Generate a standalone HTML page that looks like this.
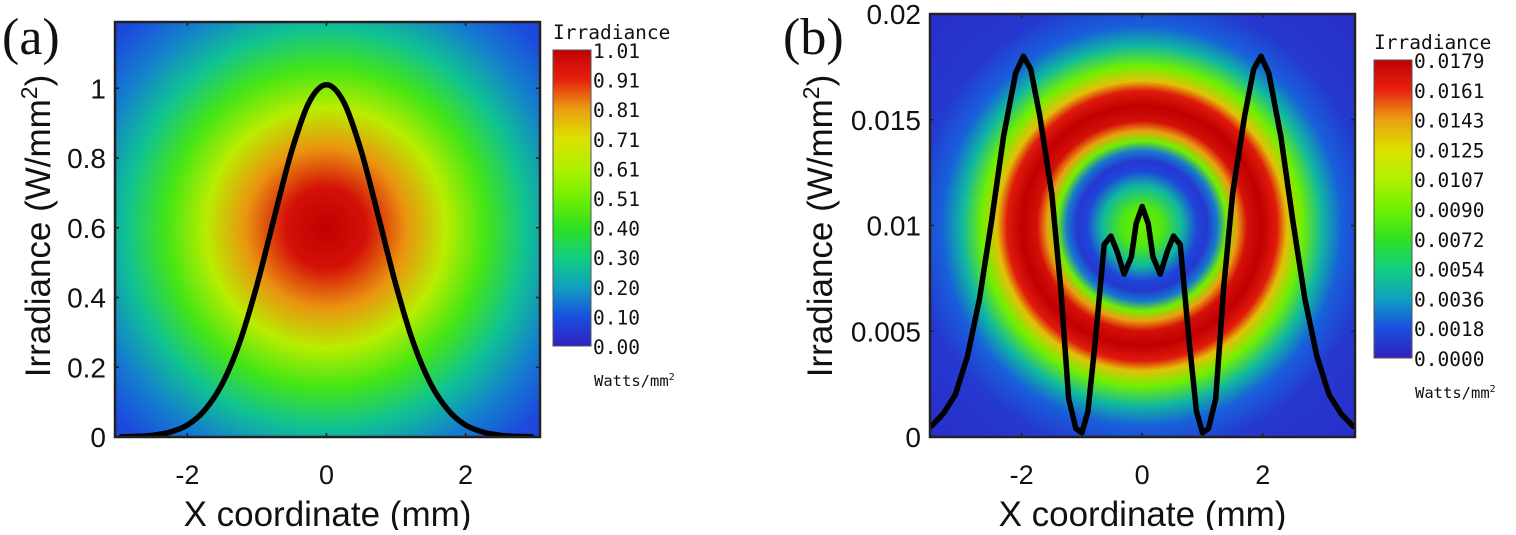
<!DOCTYPE html>
<html><head><meta charset="utf-8"><style>
body{margin:0;background:#fff;width:1516px;height:530px;overflow:hidden}
.sans{font-family:"Liberation Sans",sans-serif}
.mono{font-family:"DejaVu Sans Mono","Liberation Mono",monospace}
.serif{font-family:"Liberation Serif",serif}
</style></head><body>
<svg id="fig" width="1516" height="530" xmlns="http://www.w3.org/2000/svg"><defs id="defs"></defs></svg>
<script>
// colormap (jet-like) stops
const cmapPos=[0,0.1,0.2,0.3,0.4,0.5,0.6,0.7,0.8,0.9,1.0];
const cmapCol=["#3020c0","#1a50e0","#10a0c0","#10d080","#30e020","#70f000","#b0f000","#dce000","#eaa010","#e82010","#c00000"];
// panel a
const aX=[-2.95,-2.75,-2.5,-2.25,-2,-1.75,-1.5,-1.25,-1,-0.75,-0.5,-0.25,0,0.25,0.5,0.75,1,1.25,1.5,1.75,2,2.25,2.5,2.75,2.95];
const aY=[0.0007,0.0017,0.005,0.014,0.034,0.077,0.152,0.27,0.435,0.63,0.82,0.96,1.01,0.96,0.82,0.63,0.435,0.27,0.152,0.077,0.034,0.014,0.005,0.0017,0.0007];
const aXTicks=[-2,0,2];
const aYTicks=[0,0.2,0.4,0.6,0.8,1];
const aYTickLabels=["0","0.2","0.4","0.6","0.8","1"];
const aCbLabels=["1.01","0.91","0.81","0.71","0.61","0.51","0.40","0.30","0.20","0.10","0.00"];
const aRad=[0,40,80,120,160,200,240,280,320];
const aRadVal=[1.0,0.95,0.81,0.62,0.43,0.27,0.16,0.09,0.05];
// panel b
const bX=[-3.5,-3.3,-3.1,-2.9,-2.7,-2.5,-2.3,-2.1,-1.97,-1.85,-1.7,-1.5,-1.35,-1.22,-1.1,-1.0,-0.9,-0.78,-0.63,-0.52,-0.42,-0.3,-0.18,-0.1,0,0.1,0.18,0.3,0.42,0.52,0.63,0.78,0.9,1.0,1.1,1.22,1.35,1.5,1.7,1.85,1.97,2.1,2.3,2.5,2.7,2.9,3.1,3.3,3.5];
const bY=[0.0005,0.0011,0.002,0.0038,0.0065,0.0102,0.0142,0.0172,0.018,0.0174,0.0152,0.0115,0.007,0.0018,0.0004,0.0002,0.0012,0.0045,0.0091,0.0095,0.0088,0.0077,0.0085,0.0101,0.0109,0.0101,0.0085,0.0077,0.0088,0.0095,0.0091,0.0045,0.0012,0.0002,0.0004,0.0018,0.007,0.0115,0.0152,0.0174,0.018,0.0172,0.0142,0.0102,0.0065,0.0038,0.002,0.0011,0.0005];
const bXTicks=[-2,0,2];
const bYTicks=[0,0.005,0.01,0.015,0.02];
const bYTickLabels=["0","0.005","0.01","0.015","0.02"];
const bCbLabels=["0.0179","0.0161","0.0143","0.0125","0.0107","0.0090","0.0072","0.0054","0.0036","0.0018","0.0000"];
const bRad=[0,20,40,55,65,75,85,95,105,120,135,145,160,180,200,230,300];
const bRadVal=[0.5,0.45,0.25,0.08,0.05,0.15,0.5,0.8,0.95,1.0,0.92,0.75,0.5,0.25,0.12,0.05,0.03];

const NS="http://www.w3.org/2000/svg";
const svg=document.getElementById('fig'), defs=document.getElementById('defs');
function mk(tag,attrs,parent){const e=document.createElementNS(NS,tag);for(const k in attrs)e.setAttribute(k,attrs[k]);(parent||svg).appendChild(e);return e;}
function hex(c){return [parseInt(c.substr(1,2),16),parseInt(c.substr(3,2),16),parseInt(c.substr(5,2),16)];}
function cmap(t){t=Math.max(0,Math.min(1,t));for(let i=1;i<cmapPos.length;i++){if(t<=cmapPos[i]){const f=(t-cmapPos[i-1])/(cmapPos[i]-cmapPos[i-1]);const a=hex(cmapCol[i-1]),b=hex(cmapCol[i]);return `rgb(${a.map((v,j)=>Math.round(v+(b[j]-v)*f)).join(',')})`;}}return cmapCol[cmapCol.length-1];}
function smoothPath(pts){
  let d='M'+pts[0][0].toFixed(1)+','+pts[0][1].toFixed(1);
  for(let i=0;i<pts.length-1;i++){
    const p0=pts[Math.max(0,i-1)],p1=pts[i],p2=pts[i+1],p3=pts[Math.min(pts.length-1,i+2)];
    const c1=[p1[0]+(p2[0]-p0[0])/6,p1[1]+(p2[1]-p0[1])/6],c2=[p2[0]-(p3[0]-p1[0])/6,p2[1]-(p3[1]-p1[1])/6];
    d+=`C${c1[0].toFixed(1)},${c1[1].toFixed(1)} ${c2[0].toFixed(1)},${c2[1].toFixed(1)} ${p2[0].toFixed(1)},${p2[1].toFixed(1)}`;
  }
  return d;
}

function panel(p){
  const g=mk('g',{});
  
  
  const sx=v=>p.L+(v-p.x0)/(p.x1-p.x0)*(p.R-p.L);
  const sy=v=>p.B-(v-p.y0)/(p.y1-p.y0)*(p.B-p.T);
  const maxR=p.rad[p.rad.length-1];
  const rg=mk('radialGradient',{id:p.id+'rg',gradientUnits:'userSpaceOnUse',cx:p.cx,cy:p.cy,r:maxR},defs);
  p.rad.forEach((r,i)=>mk('stop',{offset:r/maxR,'stop-color':cmap(p.radVal[i])},rg));
  const cp=mk('clipPath',{id:p.id+'clip'},defs);
  mk('rect',{x:p.L,y:p.T,width:p.R-p.L,height:p.B-p.T},cp);
  const hm=mk('rect',{x:p.L,y:p.T,width:p.R-p.L,height:p.B-p.T,fill:`url(#${p.id}rg)`},g);
  
  
  const pts=p.xs.map((x,i)=>[sx(x),sy(p.ys[i])]);
  let d;
  if(p.smooth){d=smoothPath(pts);}else{d='';pts.forEach((q,i)=>{d+=(i?'L':'M')+q[0].toFixed(1)+','+q[1].toFixed(1);});}
  const cv=mk('path',{d:d,fill:'none',stroke:'#000','stroke-width':5.5,'stroke-linejoin':'round','stroke-linecap':'round','clip-path':`url(#${p.id}clip)`},g);
  
  
  const fr=mk('rect',{x:p.L,y:p.T,width:p.R-p.L,height:p.B-p.T,fill:'none',stroke:'#222','stroke-width':2.5},g);
  
  
  p.xt.forEach(v=>{
    mk('line',{x1:sx(v),x2:sx(v),y1:p.B,y2:p.B-4,stroke:'#222','stroke-width':1.5},g);
    mk('line',{x1:sx(v),x2:sx(v),y1:p.T,y2:p.T+4,stroke:'#222','stroke-width':1.5},g);
    const t=mk('text',{x:sx(v),y:484,'text-anchor':'middle','font-size':27,fill:'#111',class:'sans'},g);
    t.textContent=(v<0?'-':'')+Math.abs(v);
    
    
  });
  p.yt.forEach((v,i)=>{
    mk('line',{x1:p.L,x2:p.L+4,y1:sy(v),y2:sy(v),stroke:'#222','stroke-width':1.5},g);
    mk('line',{x1:p.R,x2:p.R-4,y1:sy(v),y2:sy(v),stroke:'#222','stroke-width':1.5},g);
    const t=mk('text',{x:p.L-9,y:sy(v)+10,'text-anchor':'end','font-size':28,fill:'#111',class:'sans'},g);
    t.textContent=p.ytl[i];
    
    
  });
  const xl=mk('text',{x:(p.L+p.R)/2,y:526,'text-anchor':'middle','font-size':35,fill:'#111',class:'sans'},g);
  xl.textContent='X coordinate (mm)';
  
  
  const yl=mk('text',{x:0,y:0,'text-anchor':'middle','font-size':35,fill:'#111',class:'sans',transform:`translate(${p.ylx},226) rotate(-90)`},g);
  yl.innerHTML='Irradiance (W/mm<tspan dy="-13" font-size="23">2</tspan><tspan dy="13">)</tspan>';
  
  
  const pl=mk('text',{x:p.plx,y:54,'font-size':52,fill:'#111',class:'serif'},g);
  pl.textContent=p.tag;
  
  
  const lg=mk('linearGradient',{id:p.id+'cb',x1:0,y1:1,x2:0,y2:0},defs);
  cmapPos.forEach((o,i)=>mk('stop',{offset:o,'stop-color':cmapCol[i]},lg));
  const cb=mk('rect',{x:p.cbx,y:p.cbt,width:38,height:p.cbb-p.cbt,fill:`url(#${p.id}cb)`,stroke:'#555','stroke-width':1},g);
  
  
  const n=p.cbl.length;
  p.cbl.forEach((s,i)=>{
    const t=mk('text',{x:p.cbx+40,y:p.cbt+i*(p.cbb-p.cbt)/(n-1)+8,'font-size':19.5,fill:'#111',class:'mono'},g);
    t.textContent=s;
    
    
  });
  const ct=mk('text',{x:p.cbx,y:p.cbt-11,'font-size':19.5,fill:'#111',class:'mono'},g);
  ct.textContent='Irradiance';
  
  
  const cu=mk('text',{x:p.cbx+41,y:p.cbb+40,'font-size':15.5,fill:'#111',class:'mono'},g);
  cu.innerHTML='Watts/mm<tspan dy="-6" font-size="10">2</tspan>';
  
  
}
panel({id:'a',tag:'(a)',smooth:true,L:115,R:540,T:22,B:437,x0:-3.04,x1:3.07,y0:0,y1:1.19,cx:326,cy:228,rad:aRad,radVal:aRadVal,
  xs:aX,ys:aY,xt:aXTicks,yt:aYTicks,ytl:aYTickLabels,ylx:50,plx:2,cbx:553,cbt:50,cbb:346,cbl:aCbLabels});
panel({id:'b',tag:'(b)',smooth:false,L:930,R:1355,T:14,B:437,x0:-3.52,x1:3.53,y0:0,y1:0.02,cx:1142,cy:226,rad:bRad,radVal:bRadVal,
  xs:bX,ys:bY,xt:bXTicks,yt:bYTicks,ytl:bYTickLabels,ylx:832,plx:783,cbx:1374,cbt:60,cbb:358,cbl:bCbLabels});
</script>
</body></html>
